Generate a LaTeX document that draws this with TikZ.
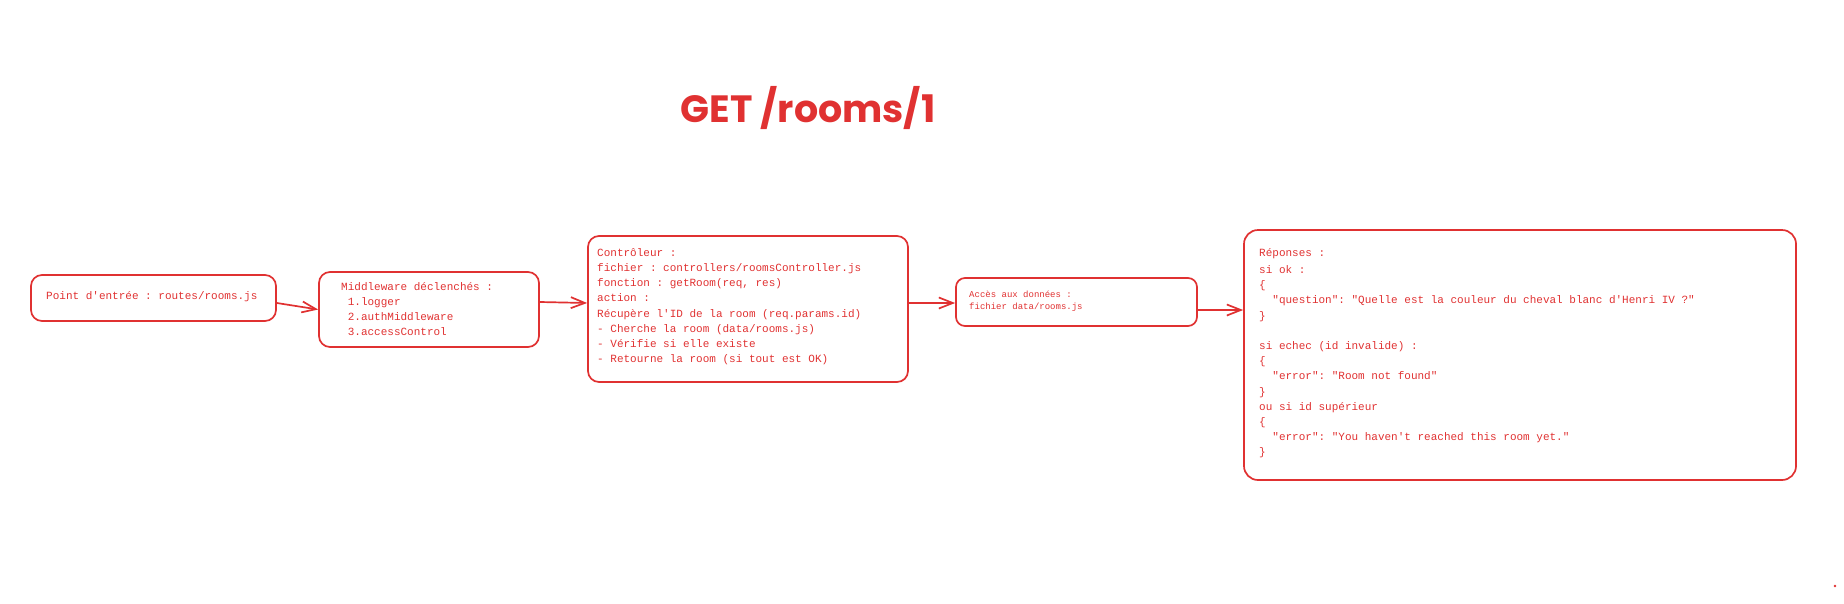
\documentclass[tikz,border=0pt]{standalone}
\usepackage{fontspec}
\setmonofont{Liberation Mono}
\newfontfamily\titlefont{Poppins}
\usetikzlibrary{arrows.meta}
\definecolor{exred}{HTML}{E03131}
\tikzset{
  sketchbox/.style={draw=exred, line width=1.7pt, rounded corners=11pt, inner sep=0pt},
  boxtext/.style={anchor=north west, inner sep=0pt, align=left, text=exred,
    font=\ttfamily\fontsize{11}{15.2}\selectfont},
  smalltext/.style={anchor=north west, inner sep=0pt, align=left, text=exred,
    font=\ttfamily\fontsize{9}{12}\selectfont},
  flow/.style={draw=exred, line width=1.7pt, -{Straight Barb[length=14pt,width=11pt,line width=1.7pt]}},
}
\newcommand{\ts}{\rule{0pt}{11pt}}
\begin{document}
\begin{tikzpicture}[x=1pt,y=-1pt]
\useasboundingbox (0,0) rectangle (1844,603);
% title
\node[text=exred, font=\titlefont\bfseries\fontsize{38}{38}\selectfont] (title) at (808,108) {GET /rooms/1};
% boxes
\node[sketchbox, minimum width=245pt, minimum height=46pt] (b1) at (153.5,298) {};
\node[sketchbox, minimum width=220pt, minimum height=75pt] (b2) at (429,309.5) {};
\node[sketchbox, minimum width=320pt, minimum height=146pt] (b3) at (748,309) {};
\node[sketchbox, minimum width=241pt, minimum height=48pt, rounded corners=9pt] (b4) at (1076.5,302) {};
\node[sketchbox, minimum width=552pt, minimum height=250pt, rounded corners=14pt] (b5) at (1520,355) {};
% texts
\node[boxtext] (t1) at (46,288) {\ts Point d'entrée : routes/rooms.js};
\node[boxtext] (t2) at (341,279) {\ts Middleware déclenchés :\\
\ 1.logger\\
\ 2.authMiddleware\\
\ 3.accessControl};
\node[boxtext] (t3) at (597,245) {\ts Contrôleur :\\
fichier : controllers/roomsController.js\\
fonction : getRoom(req, res)\\
action :\\
Récupère l'ID de la room (req.params.id)\\
- Cherche la room (data/rooms.js)\\
- Vérifie si elle existe\\
- Retourne la room (si tout est OK)};
\node[smalltext] (t4) at (969,288) {\rule{0pt}{9pt}Accès aux données :\\
fichier data/rooms.js};
\node[boxtext] (t5) at (1259,245) {\ts Réponses :\\[2pt]
si ok :\\
\{\\
\ \ "question": "Quelle est la couleur du cheval blanc d'Henri IV ?"\\
\}\\
\\
si echec (id invalide) :\\
\{\\
\ \ "error": "Room not found"\\
\}\\
ou si id supérieur\\
\{\\
\ \ "error": "You haven't reached this room yet."\\
\}};
% connectors
\draw[flow] ([yshift=-5pt]b1.east) -- ([yshift=0pt]b2.west);
\draw[flow] ([yshift=7.5pt]b2.east) -- ([yshift=6pt]b3.west);
\draw[flow] ([yshift=6pt]b3.east) -- ([yshift=-1pt]b4.west);
\draw[flow] ([yshift=-8pt]b4.east) -- ([yshift=45pt]b5.west);
% small dot
\fill[exred] (1835,586) circle (1.3pt);
\end{tikzpicture}
\end{document}
